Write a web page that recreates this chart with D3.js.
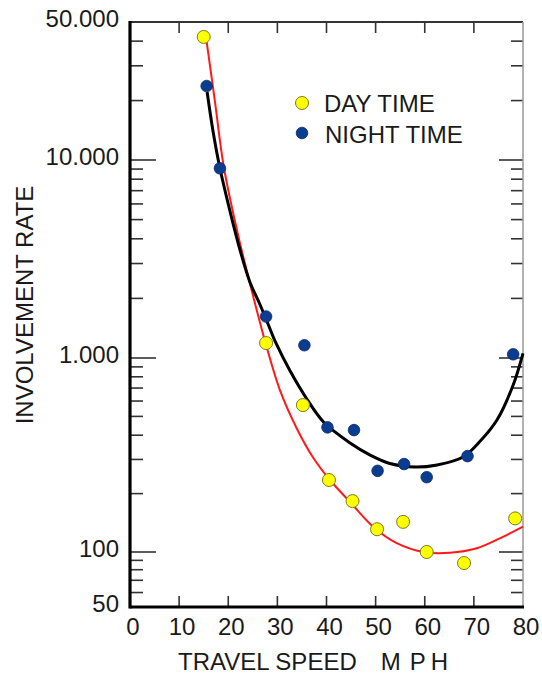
<!DOCTYPE html>
<html>
<head>
<meta charset="utf-8">
<script src="https://cdn.jsdelivr.net/npm/d3@7/dist/d3.min.js"></script>
<style>
  body { margin: 0; background: #fff; }
  text { font-family: "Liberation Sans", Arial, sans-serif; fill: #1a1a1a; }
</style>
</head>
<body>
<script>
(function(){

//measured points
var daySpeed = [15, 27.7, 35.2, 40.5, 45.3, 50.3, 55.6, 60.4, 68, 78.4];
var dayRate = [42000, 1190, 572, 235, 183, 131, 143, 100, 87, 149];
var nightSpeed = [15.6, 18.3, 27.7, 35.5, 40.2, 45.6, 50.4, 55.8, 60.4, 68.7, 78];
var nightRate = [23700, 9080, 1620, 1160, 439, 425, 262, 284, 243, 312, 1044];

//fitted curves
var dayFitSpeed = [15.6, 17.3, 19.1, 22.05, 25.1, 27.8, 30.5, 33.9, 37.3, 40.7, 44.8, 49.5, 54.3, 59.7, 65.1, 70.6, 76, 80];
var dayFitRate = [39750, 19700, 9220, 4130, 2040, 1140, 685, 436, 306, 235, 181, 135, 111, 100, 99, 104.5, 120, 135];
var nightFitSpeed = [15.7, 16.9, 18.3, 20.4, 22.4, 24.4, 26.5, 28.1, 29.7, 32.6, 36, 39.4, 44.8, 48.9, 52.9, 58, 62.5, 67.9, 71.3, 74.7, 78, 80];
var nightFitRate = [22100, 14000, 9110, 5460, 3510, 2420, 1852, 1485, 1191, 857, 615, 468, 365, 316, 286, 274, 281, 310, 373, 479, 726, 1056];

//axis ticks
var xTicks = [0, 10, 20, 30, 40, 50, 60, 70, 80];
var yLabelValues = [50, 100, 1000, 10000, 50000];
var yLabelText = ["50", "100", "1.000", "10.000", "50.000"];
var yMajor = [100, 1000, 10000];

var width = 542,
    height = 677;

var svg = d3.select("body")
    .append("svg")
    .attr("width", width)
    .attr("height", height);

var x = d3.scaleLinear()
    .domain([0, 80])
    .range([130, 523]);

//the printed log axis is slightly uneven, so calibrate on each labelled value
var y = d3.scaleLog()
    .domain([50, 100, 1000, 10000, 50000])
    .range([607, 552, 358, 160, 22]);

var left = x(0), right = x(80), top = y(50000), bottom = y(50);

//minor + major ticks for every 1..9 x 10^k inside the range
var yTicks = [];
[10, 100, 1000, 10000].forEach(function(p){
    for (var m = 1; m < 10; m++){
        var v = m * p;
        if (v > 50 && v < 50000) yTicks.push(v);
    }
});

function isMajor(v){ return yMajor.indexOf(v) >= 0; }

//left ticks
svg.append("g").selectAll("line")
    .data(yTicks)
    .enter()
    .append("line")
    .attr("x1", left)
    .attr("x2", function(d){ return left + (isMajor(d) ? 26 : 13); })
    .attr("y1", function(d){ return y(d); })
    .attr("y2", function(d){ return y(d); })
    .attr("stroke", "#333")
    .attr("stroke-width", 1.6);

//right ticks
svg.append("g").selectAll("line")
    .data(yTicks)
    .enter()
    .append("line")
    .attr("x1", right)
    .attr("x2", function(d){ return right - (isMajor(d) ? 24 : 12); })
    .attr("y1", function(d){ return y(d); })
    .attr("y2", function(d){ return y(d); })
    .attr("stroke", "#333")
    .attr("stroke-width", 1.6);

//top and bottom ticks
var innerX = xTicks.slice(1, -1);
svg.append("g").selectAll("line")
    .data(innerX)
    .enter()
    .append("line")
    .attr("x1", function(d){ return x(d); })
    .attr("x2", function(d){ return x(d); })
    .attr("y1", top)
    .attr("y2", top + 11)
    .attr("stroke", "#333")
    .attr("stroke-width", 1.6);

svg.append("g").selectAll("line")
    .data(innerX)
    .enter()
    .append("line")
    .attr("x1", function(d){ return x(d); })
    .attr("x2", function(d){ return x(d); })
    .attr("y1", bottom)
    .attr("y2", bottom - 11)
    .attr("stroke", "#333")
    .attr("stroke-width", 1.6);

//frame
svg.append("line")
    .attr("x1", left).attr("x2", right)
    .attr("y1", top).attr("y2", top)
    .attr("stroke", "#333").attr("stroke-width", 1.8);
svg.append("line")
    .attr("x1", right).attr("x2", right)
    .attr("y1", top).attr("y2", bottom)
    .attr("stroke", "#999").attr("stroke-width", 1.5);
svg.append("line")
    .attr("x1", left).attr("x2", right + 1)
    .attr("y1", bottom).attr("y2", bottom)
    .attr("stroke", "#000").attr("stroke-width", 3.2);
svg.append("line")
    .attr("x1", left).attr("x2", left)
    .attr("y1", top - 1).attr("y2", bottom + 1.5)
    .attr("stroke", "#000").attr("stroke-width", 3.2);

//y labels
svg.append("g").selectAll("text")
    .data(yLabelValues)
    .enter()
    .append("text")
    .attr("x", 119)
    .attr("y", function(d){ return y(d) + 5; })
    .attr("text-anchor", "end")
    .attr("font-size", 24)
    .text(function(d, i){ return yLabelText[i]; });

//x labels
svg.append("g").selectAll("text")
    .data(xTicks)
    .enter()
    .append("text")
    .attr("x", function(d){ return x(d) + 3; })
    .attr("y", 635)
    .attr("text-anchor", "middle")
    .attr("font-size", 24)
    .text(function(d){ return d; });

//axis titles
var xTitle = svg.append("text")
    .attr("x", 178)
    .attr("y", 670)
    .attr("font-size", 24);
xTitle.append("tspan").text("TRAVEL SPEED");
xTitle.append("tspan").attr("dx", 24).text("M");
xTitle.append("tspan").attr("dx", 9).text("P");
xTitle.append("tspan").attr("dx", 5).text("H");

svg.append("text")
    .attr("transform", "translate(33,305) rotate(-90)")
    .attr("text-anchor", "middle")
    .attr("font-size", 24)
    .text("INVOLVEMENT RATE");

//fitted curves
var line = d3.line()
    .x(function(d){ return x(d[0]); })
    .y(function(d){ return y(d[1]); })
    .curve(d3.curveCatmullRom.alpha(0.5));

svg.append("path")
    .datum(d3.zip(dayFitSpeed, dayFitRate))
    .attr("d", line)
    .attr("fill", "none")
    .attr("stroke", "#ff1a1a")
    .attr("stroke-width", 2);

svg.append("path")
    .datum(d3.zip(nightFitSpeed, nightFitRate))
    .attr("d", line)
    .attr("fill", "none")
    .attr("stroke", "#000")
    .attr("stroke-width", 3);

//points
svg.append("g").selectAll("circle")
    .data(d3.zip(nightSpeed, nightRate))
    .enter()
    .append("circle")
    .attr("cx", function(d){ return x(d[0]); })
    .attr("cy", function(d){ return y(d[1]); })
    .attr("r", 5.8)
    .attr("fill", "#0a3d91")
    .attr("stroke", "#0a2a66")
    .attr("stroke-width", 0.8);

svg.append("g").selectAll("circle")
    .data(d3.zip(daySpeed, dayRate))
    .enter()
    .append("circle")
    .attr("cx", function(d){ return x(d[0]); })
    .attr("cy", function(d){ return y(d[1]); })
    .attr("r", 6.5)
    .attr("fill", "#ffff00")
    .attr("stroke", "#7a7a20")
    .attr("stroke-width", 1);

//legend
var legend = svg.append("g");
legend.append("circle")
    .attr("cx", 302).attr("cy", 103).attr("r", 6.5)
    .attr("fill", "#ffff00").attr("stroke", "#7a7a20").attr("stroke-width", 1);
legend.append("text")
    .attr("x", 324).attr("y", 112)
    .attr("font-size", 24)
    .text("DAY TIME");
legend.append("circle")
    .attr("cx", 302).attr("cy", 133).attr("r", 5.8)
    .attr("fill", "#0a3d91").attr("stroke", "#0a2a66").attr("stroke-width", 0.8);
legend.append("text")
    .attr("x", 325).attr("y", 143)
    .attr("font-size", 24)
    .text("NIGHT TIME");

})();
</script>
</body>
</html>
